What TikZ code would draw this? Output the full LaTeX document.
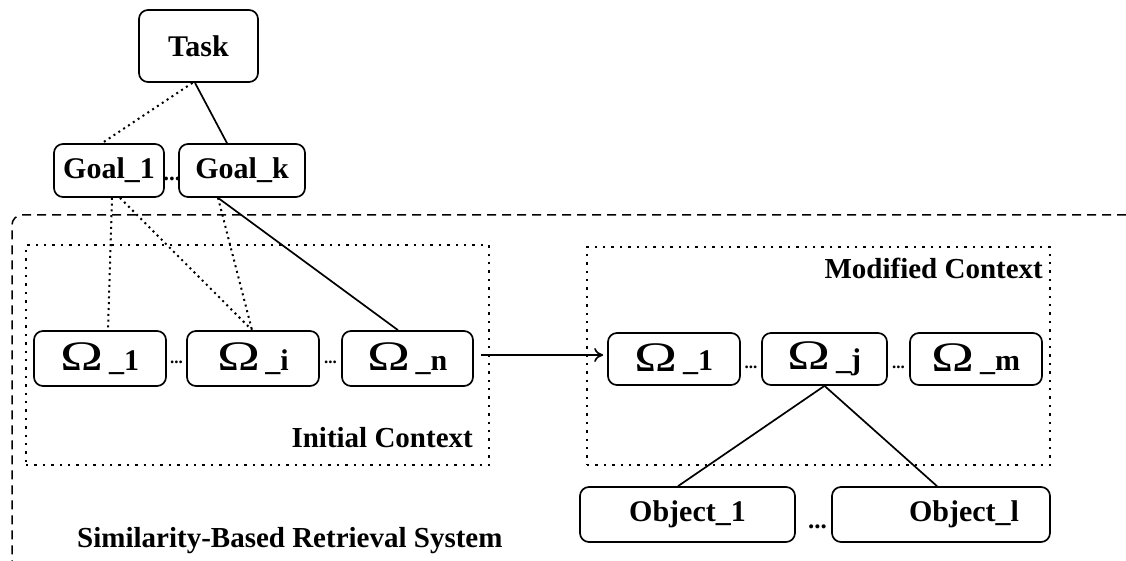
\documentclass[tikz,border=0pt]{standalone}
\usepackage{fontspec}
\setmainfont{Liberation Serif}
\usetikzlibrary{arrows.meta}
\begin{document}
\begin{tikzpicture}[x=1pt,y=-1pt,
  box/.style={draw,line width=1.7pt,rounded corners=9pt,inner sep=0pt,
    font=\fontsize{30}{30}\selectfont\bfseries},
  dotln/.style={line width=2pt,dash pattern=on 2pt off 3.8pt},
  solidln/.style={line width=1.7pt},
  ctx/.style={draw,line width=2pt,dash pattern=on 2.4pt off 6pt},
  lbl/.style={inner sep=0pt,font=\fontsize{29}{29}\selectfont\bfseries},
  ell/.style={inner sep=0pt,font=\fontsize{#1}{#1}\selectfont\bfseries},
]
\newcommand{\om}[1]{\raisebox{-0.5pt}{\scalebox{1.38}[1]{\fontsize{42}{42}\selectfont\mdseries Ω}}\,\_#1}
\useasboundingbox (0,0) rectangle (1126,561);
% outer system boundary
\draw[line width=1.5pt,dash pattern=on 9pt off 6pt,rounded corners=10pt]
  (1126,215) -- (12,215) -- (12,561);
% contexts
\node[ctx,minimum width=463pt,minimum height=220pt,inner sep=0pt] (ictx) at (257.5,355) {};
\node[ctx,minimum width=463pt,minimum height=218pt,inner sep=0pt] (mctx) at (818.5,356) {};
\node[lbl,anchor=base east] (ilbl) at (473,447) {Initial Context};
\node[lbl,anchor=base east] (mlbl) at (1043,278) {Modified Context};
\node[lbl,anchor=base west] (slbl) at (77,547) {Similarity-Based Retrieval System};
% task and goals
\node[box,minimum width=119pt,minimum height=72pt] (task) at (198.5,46) {Task};
\node[box,minimum width=110pt,minimum height=53pt] (goal1) at (109,170.5) {Goal\_1};
\node[box,minimum width=126pt,minimum height=53pt] (goalk) at (242,170.5) {Goal\_k};
\node[ell=23,anchor=base] (gdots) at (172,181) {...};
% initial context
\node[box,minimum width=132pt,minimum height=55pt] (o1) at (100,358.5) {\om{1}};
\node[box,minimum width=132pt,minimum height=55pt] (oi) at (253,358.5) {\om{i}};
\node[box,minimum width=131pt,minimum height=55pt] (on) at (407.5,358.5) {\om{n}};
\node[ell=17,anchor=base] (idots1) at (176.5,363) {...};
\node[ell=17,anchor=base] (idots2) at (330.5,363) {...};
% modified context
\node[box,minimum width=132pt,minimum height=52pt] (m1) at (674,359) {\om{1}};
\node[box,minimum width=125pt,minimum height=52pt] (mj) at (824.5,359) {\om{j}};
\node[box,minimum width=132pt,minimum height=52pt] (mm) at (976,359) {\om{m}};
\node[ell=17,anchor=base] (mdots1) at (751,368) {...};
\node[ell=17,anchor=base] (mdots2) at (898.5,368) {...};
% objects
\node[box,minimum width=215pt,minimum height=55pt] (obj1) at (687.5,514.5) {Object\_1\hspace{64pt}};
\node[box,minimum width=218pt,minimum height=55pt] (objl) at (941,514.5) {\hspace{46pt}Object\_l};
\node[ell=25,anchor=base] (odots) at (817.5,528) {...};
% connectors
\draw[dotln] ([xshift=-6pt]task.south) -- ([xshift=-7pt]goal1.north);
\draw[solidln] ([xshift=-3.5pt]task.south) -- ([xshift=-15pt]goalk.north);
\draw[dotln] ([xshift=3pt]goal1.south) -- ([xshift=8pt]o1.north);
\draw[dotln] ([xshift=11pt]goal1.south) -- ([xshift=-1pt]oi.north);
\draw[dotln] ([xshift=-24pt]goalk.south) -- ([xshift=-1pt]oi.north);
\draw[solidln] ([xshift=-24pt]goalk.south) -- ([xshift=-9.5pt]on.north);
\draw[solidln,-{To[length=9pt,width=14pt,line width=1.6pt]},shorten <=7pt,shorten >=4pt]
  ([yshift=3.5pt]on.east) -- ([yshift=3.5pt]m1.west |- on.east);
\draw[solidln] (mj.south) -- ([xshift=-9.5pt]obj1.north);
\draw[solidln] (mj.south) -- ([xshift=-4pt]objl.north);
\end{tikzpicture}
\end{document}
